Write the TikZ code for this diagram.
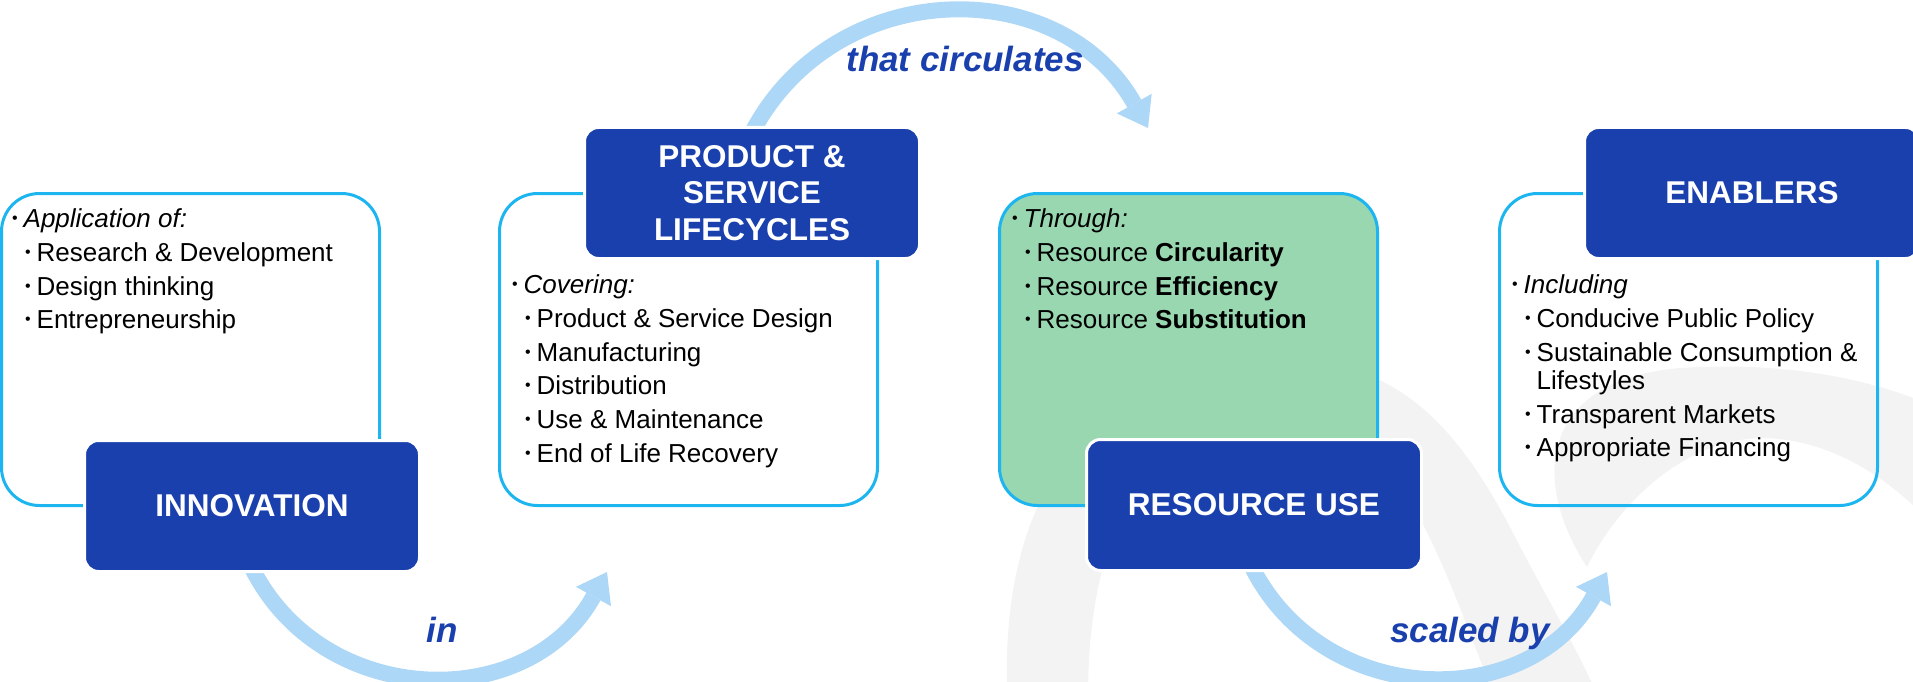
\documentclass[tikz,border=0pt]{standalone}
\usepackage{fontspec}
\setmainfont{Liberation Sans}
\usepackage{tikz}
\usetikzlibrary{arrows.meta,calc,backgrounds}
\definecolor{hdrblue}{RGB}{26,64,174}
\definecolor{rimblue}{RGB}{29,181,240}
\definecolor{flowblue}{RGB}{173,215,246}
\definecolor{leafgreen}{RGB}{152,215,176}
\definecolor{wmgrey}{RGB}{243,243,243}
\newcommand{\bul}{\makebox[11.5pt][l]{\raisebox{4pt}{\fontsize{16}{16}\selectfont\textbullet}}}
\newcommand{\nobul}{\makebox[11.5pt]{}}

\begin{document}
\begin{tikzpicture}[x=1pt,y=-1pt,
		panel/.style={draw=rimblue, line width=3pt, rounded corners=38pt, minimum width=378pt, minimum height=312pt, inner sep=0pt},
		header/.style={fill=hdrblue, draw=white, line width=3pt, rounded corners=14pt, minimum width=335pt, minimum height=131pt, inner sep=0pt, text=white, align=center, font=\fontsize{31.5}{36.7}\selectfont\bfseries},
		item/.style={anchor=base west, inner sep=0pt, font=\fontsize{26}{30}\selectfont},
		flow/.style={draw=flowblue, line width=16pt, -{Triangle[length=28pt,width=40pt,line width=0pt]}},
		flowlabel/.style={anchor=base, inner sep=0pt, text=hdrblue, font=\fontsize{35}{35}\selectfont\bfseries\itshape}]
	\useasboundingbox (0,0) rectangle (1913,682);
	\node[header] (inn) at (252,506) {INNOVATION};
	\node[header] (prod) at (752,193) {PRODUCT \&\\SERVICE\\LIFECYCLES};
	\node[header] (res) at (1254,505) {RESOURCE USE};
	\node[header] (enab) at (1752,193) {ENABLERS};
	\coordinate (in-s) at ($(inn.south)+(-3,-11)$);
	\coordinate (in-e) at (607,572);
	\coordinate (circ-s) at ($(prod.north)+(-3,12.5)$);
	\coordinate (circ-e) at (1148,128);
	\coordinate (scale-s) at ($(res.south)+(-5,-11)$);
	\coordinate (scale-e) at (1607,572);
	\begin{pgfonlayer}{background}
		\fill[wmgrey] (1007,690) .. controls (1000,430) and (1150,360) .. (1300,362)
			.. controls (1400,364) and (1460,430) .. (1513,533)
			.. controls (1545,595) and (1575,645) .. (1595,690) -- (1492,690)
			.. controls (1440,560) and (1400,420) .. (1290,420)
			.. controls (1150,420) and (1090,520) .. (1088,690) -- cycle;
		\fill[wmgrey] (1587,567) .. controls (1530,480) and (1540,380) .. (1680,368)
			.. controls (1800,360) and (1900,385) .. (1960,420) -- (1960,560)
			.. controls (1890,460) and (1800,430) .. (1740,440)
			.. controls (1680,450) and (1620,500) .. (1587,567) -- cycle;
		\node[panel] (p1) at (190.5,349.5) {};
		\node[panel] (p2) at (688.5,349.5) {};
		\node[panel, fill=leafgreen] (p3) at (1188.5,349.5) {};
		\node[panel] (p4) at (1688.5,349.5) {};
		\draw[flow] (in-s) .. controls +(69,148) and +(-79,143) .. (in-e);
		\draw[flow] (circ-s) .. controls +(80,-163) and +(-89,-158) .. (circ-e);
		\draw[flow] (scale-s) .. controls +(69,148) and +(-79,143) .. (scale-e);
	\end{pgfonlayer}
	\node[item] (inn-0) at (12,227) {\bul\textit{Application of:}};
	\foreach \y/\t [count=\i] in {261/{Research \& Development},295/{Design thinking},328/{Entrepreneurship}}
		\node[item] (inn-\i) at (25,\y) {\bul\t};
	\node[item] (prod-0) at (512,293) {\bul\textit{Covering:}};
	\foreach \y/\t [count=\i] in {327/{Product \& Service Design},361/{Manufacturing},394/{Distribution},428/{Use \& Maintenance},462/{End of Life Recovery}}
		\node[item] (prod-\i) at (525,\y) {\bul\t};
	\node[item] (res-0) at (1012,227) {\bul\textit{Through:}};
	\foreach \y/\t [count=\i] in {261/{Resource \textbf{Circularity}},295/{Resource \textbf{Efficiency}},328/{Resource \textbf{Substitution}}}
		\node[item] (res-\i) at (1025,\y) {\bul\t};
	\node[item] (enab-0) at (1512,293) {\bul\textit{Including}};
	\foreach \y/\t [count=\i] in {327/{\bul Conducive Public Policy},361/{\bul Sustainable Consumption \&},389/{\nobul Lifestyles},423/{\bul Transparent Markets},456/{\bul Appropriate Financing}}
		\node[item] (enab-\i) at (1525,\y) {\t};
	\node[flowlabel] (lbl-in) at (442,642) {in};
	\node[flowlabel] (lbl-circ) at (965,72) {that circulates};
	\node[flowlabel] (lbl-scale) at (1470,642) {scaled by};
\end{tikzpicture}
\end{document}
